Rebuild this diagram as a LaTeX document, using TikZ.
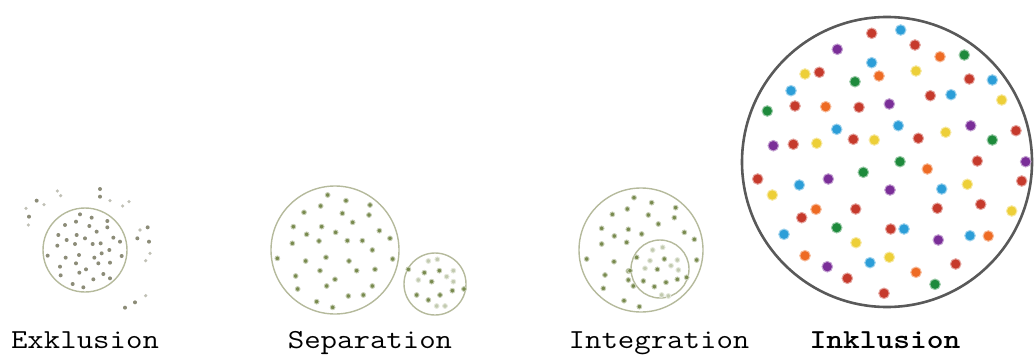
\documentclass[tikz,border=0pt]{standalone}
\usepackage{fontspec}
\definecolor{dred}{HTML}{C63A2C}
\definecolor{dblue}{HTML}{2C9ED8}
\definecolor{dpurple}{HTML}{7A2E98}
\definecolor{dorange}{HTML}{EE6B24}
\definecolor{dgreen}{HTML}{1E8A3C}
\definecolor{dyellow}{HTML}{EDCF38}
\definecolor{olive}{HTML}{788A4E}
\definecolor{grayolive}{HTML}{8C8C78}
\definecolor{ring}{HTML}{B5BA9C}
\tikzset{
  ringline/.style={draw=ring, line width=1.4pt},
  exdot/.style={fill=grayolive},
  exfaint/.style={fill=grayolive!55},
  oldot/.style={fill=olive, draw=olive!40, line width=0.9pt},
  olfaint/.style={fill=olive!45, draw=olive!20, line width=0.9pt},
  cdot/.style={fill=#1, draw=#1!45, line width=1pt},
  lab/.style={font=\ttfamily\fontsize{27.5}{29}\selectfont, anchor=base, xscale=1.16},
}
\begin{document}
\begin{tikzpicture}[x=1pt,y=-1pt]
\useasboundingbox (0,0) rectangle (1035,356);
% ---------- Exklusion ----------
\draw[ringline] (85,250) circle (42);
\foreach \x/\y in {240/133,275/143,322/153,195/165,228/155,268/168,322/172,290/185,175/195,230/195,255/205,340/203,200/210,172/227,225/222,278/222,302/220,360/215,328/240,143/257,197/263,237/255,283/263,365/258,180/290,228/280,295/280,330/278,258/298,238/308,182/316,310/312,280/328,330/325,218/342,250/352,305/250}
  \fill[exdot] (\x/3,170+\y/3) circle (2);
\foreach \x/\y in {300/57,300/80,110/92,87/140,443/172,447/215,405/397,375/413,412/205}
  \fill[exdot] (\x/3,170+\y/3) circle (2);
\foreach \x/\y in {172/63,132/104,78/115,85/165,387/95,330/92,368/108,420/180,450/250,437/272,437/377,182/77}
  \fill[exfaint] (\x/3,170+\y/3) circle (1.8);
% ---------- Separation ----------
\draw[ringline] (335,250) circle (64);
\draw[ringline] (435,284) circle (31);
\foreach \x/\y in {203/45,258/62,330/75,182/78,132/97,247/100,327/105,278/127,100/140,185/140,140/163,227/157,358/152,390/175,97/190,177/183,262/182,307/182,337/210,52/235,137/243,198/232,267/243,398/237,180/272,290/272,345/268,107/288,225/298,200/318,337/318,113/327,265/348,310/345,170/365,218/382}
  \filldraw[oldot] (260+\x/3,180+\y/3) circle (2.4);
\foreach \x/\y in {493/278,538/272,515/305,470/345,505/360,540/345,577/332,612/327,445/268}
  \filldraw[oldot] (260+\x/3,180+\y/3) circle (2.4);
\foreach \x/\y in {532/238,505/243,560/290,580/272,580/305,475/300,530/378,555/378}
  \filldraw[olfaint] (260+\x/3,180+\y/3) circle (2.4);
% ---------- Integration ----------
\draw[ringline] (641,250) circle (62);
\draw[ringline] (660,269) circle (29);
\foreach \x/\y in {222/53,275/68,347/83,202/87,157/103,265/105,343/113,295/132,125/145,205/148,163/168,245/162,373/157,403/178,125/192,200/187,80/237,162/245,410/240,135/285,205/273,130/325,192/362,238/380,220/318,210/272,205/300,230/232}
  \filldraw[oldot] (560+\x/3,180+\y/3) circle (2.4);
\foreach \x/\y in {292/268,283/320,250/303,318/307,352/298,313/237,380/292}
  \filldraw[oldot] (560+\x/3,180+\y/3) circle (2.4);
\foreach \x/\y in {278/210,308/202,270/242,352/240,255/265,333/257,355/270,305/345,325/348}
  \filldraw[olfaint] (560+\x/3,180+\y/3) circle (2.4);
% ---------- Inklusion ----------
\draw[draw=black!65, line width=2.6pt] (887,162) circle (145);
\foreach \c/\x/\y in {
dred/871.7/33.3, dblue/900.7/30, dpurple/837.3/49.3, dred/915/45, dorange/940/56.7, dgreen/964.3/55,
dblue/871.7/62.7, dyellow/805/74, dred/819.3/72.3, dgreen/855/81.7, dorange/879/76, dyellow/916/71,
dred/969.3/79, dblue/992.3/80, dblue/791/90.7, dred/930.3/95.7, dblue/951/94.7, dyellow/1001.7/100,
dgreen/767.3/111, dred/795/106, dorange/825.7/106.7, dred/859/107.3, dpurple/889.3/104,
dblue/836.7/129.3, dblue/898.3/125.7, dyellow/945.7/132.3, dpurple/970.7/125.7, dred/1016/130.7,
dpurple/773.3/145.7, dred/793.3/144.3, dyellow/816.7/143.3, dred/853.3/139.3, dyellow/874.3/140,
dred/918.3/138.3, dgreen/992.3/140, dgreen/900/161.7, dorange/927.3/169, dred/977.3/161,
dpurple/1025.7/161.7, dred/757.7/179, dblue/799.3/185, dpurple/828.3/179, dgreen/863.3/172.3,
dpurple/890/190, dblue/941.7/189, dyellow/967.3/184.3, dred/1021.7/181, dyellow/772.3/195,
dorange/816/209.3, dred/801.7/217.7, dred/855.7/209, dred/937.3/208.3, dred/980.7/204.3,
dyellow/1011.7/211, dgreen/836.7/227.7, dred/890.7/229, dblue/904/229, dblue/784/234.3,
dyellow/856/242.7, dpurple/938.3/240, dblue/970/235.7, dorange/988.3/236, dorange/805/255.7,
dblue/870/262.7, dyellow/889.3/257.3, dpurple/827.3/266.7, dred/847.3/278.3, dorange/916/272.3,
dred/955.7/264, dgreen/935/284.3, dred/884/293.3}
  \filldraw[cdot=\c] (\x,\y) circle (5.3);
% ---------- labels ----------
\node[lab] (l1) at (85,348) {Exklusion};
\node[lab] (l2) at (370,348) {Separation};
\node[lab] (l3) at (659,348) {Integration};
\node[lab, font=\ttfamily\bfseries\fontsize{27.5}{29}\selectfont] (l4) at (885,348) {Inklusion};
\end{tikzpicture}
\end{document}
